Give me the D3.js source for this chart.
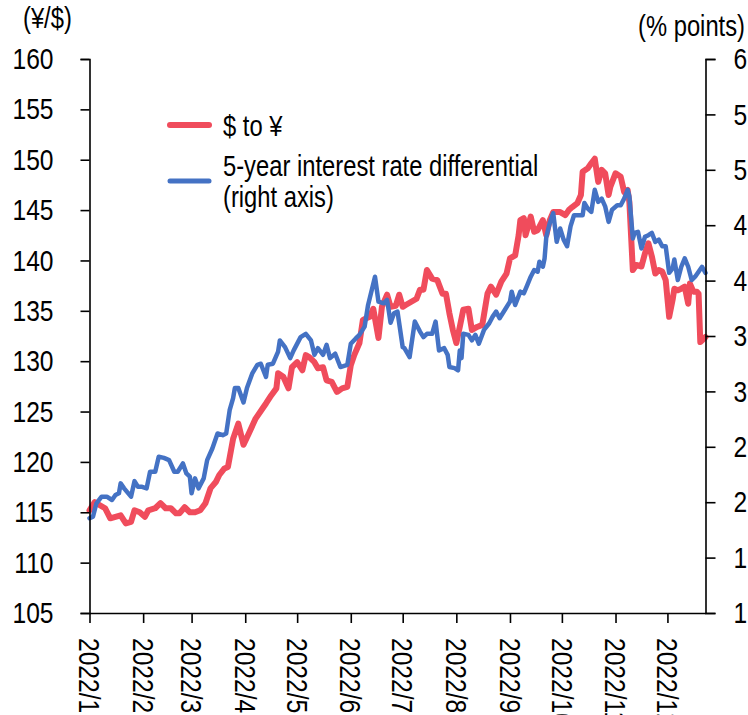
<!DOCTYPE html>
<html><head><meta charset="utf-8">
<script src="https://cdn.jsdelivr.net/npm/d3@7"></script>
<style>
body{margin:0;background:#fff}
svg{display:block}
text{font-family:'Liberation Sans',Arial,sans-serif;fill:#000}
</style>
</head><body>
<svg id="chart" width="748" height="715"></svg>
<script>
const year = 2022;
// $ to ¥ (left axis)
const fxDates = ["01-01","01-04","01-07","01-10","01-13","01-16","01-19","01-22","01-25","01-27","01-30","02-02","02-04","02-08","02-11","02-14","02-17","02-20","02-22","02-25","02-28","03-03","03-06","03-09","03-12","03-15","03-17","03-20","03-22","03-25","03-28","03-31","04-03","04-07","04-11","04-13","04-16","04-19","04-20","04-23","04-26","04-28","05-01","05-04","05-06","05-08","05-11","05-13","05-16","05-18","05-21","05-24","05-27","05-30","06-01","06-03","06-06","06-08","06-10","06-12","06-14","06-17","06-19","06-22","06-24","06-27","06-29","07-01","07-03","07-06","07-09","07-11","07-13","07-15","07-18","07-21","07-24","07-26","07-28","07-30","08-01","08-03","08-05","08-08","08-10","08-13","08-16","08-19","08-21","08-24","08-27","08-30","09-01","09-04","09-06","09-07","09-09","09-10","09-13","09-15","09-17","09-20","09-22","09-24","09-26","09-27","09-30","10-03","10-05","10-07","10-10","10-12","10-13","10-16","10-18","10-20","10-22","10-24","10-26","10-28","10-29","11-01","11-04","11-06","11-08","11-09","11-11","11-13","11-16","11-18","11-20","11-22","11-24","11-26","11-28","11-30","12-02","12-04","12-05","12-07","12-09","12-11","12-13","12-14","12-16","12-18","12-19","12-20","12-23"];
const fxValues = [115.2,116.0,115.7,115.4,114.4,114.55,114.7,113.9,114.05,115.2,115.0,114.55,115.2,115.4,115.9,115.4,115.4,114.9,114.9,115.5,115.0,115.0,115.2,115.9,117.4,118.0,118.7,119.35,119.5,122.3,123.8,121.7,122.8,124.3,125.3,125.8,126.6,127.3,128.8,128.45,127.3,129.4,129.9,129.1,130.6,130.4,129.9,129.3,129.4,128.1,127.95,126.95,127.3,127.45,129.6,130.6,131.8,134.1,134.25,134.4,135.2,132.3,135.4,136.6,135.4,135.5,136.6,135.4,135.6,135.9,136.2,137.1,137.1,139.05,138.2,138.05,136.7,136.7,134.75,133.1,131.8,133.4,135.1,135.2,133.1,133.4,133.6,136.7,137.4,136.6,137.9,138.7,140.2,140.5,142.5,144.0,144.2,142.5,144.35,142.85,143.0,144.0,142.5,144.0,144.8,144.8,144.8,144.5,145.0,145.3,145.7,146.5,148.8,149.15,149.65,150.1,147.8,149.0,148.65,146.5,147.3,148.65,148.3,146.8,147.0,145.8,139.05,139.55,139.4,140.7,141.7,140.4,138.7,139.05,138.9,138.05,134.4,136.1,137.2,137.05,137.2,137.4,135.7,137.7,136.9,136.9,136.7,131.9,132.4];
// 5-year interest rate differential (right axis)
const diffDates = ["01-01","01-03","01-05","01-08","01-11","01-14","01-16","01-18","01-19","01-21","01-25","01-27","01-29","01-31","02-03","02-05","02-08","02-10","02-13","02-16","02-19","02-21","02-24","02-26","02-28","03-01","03-03","03-05","03-08","03-10","03-13","03-16","03-19","03-21","03-23","03-25","03-26","03-28","03-31","04-02","04-05","04-08","04-10","04-13","04-14","04-17","04-20","04-21","04-24","04-27","04-29","05-03","05-06","05-09","05-11","05-13","05-16","05-18","05-20","05-23","05-26","05-30","06-01","06-04","06-06","06-09","06-11","06-15","06-17","06-20","06-22","06-24","06-26","06-28","07-01","07-02","07-05","07-08","07-11","07-13","07-15","07-18","07-20","07-22","07-25","07-27","07-28","07-31","08-02","08-03","08-04","08-05","08-08","08-10","08-12","08-14","08-17","08-20","08-22","08-24","08-26","08-29","09-01","09-02","09-04","09-07","09-09","09-11","09-13","09-15","09-17","09-18","09-20","09-21","09-22","09-24","09-26","09-28","09-30","10-02","10-04","10-06","10-08","10-11","10-13","10-14","10-16","10-18","10-20","10-22","10-24","10-26","10-28","10-30","11-02","11-04","11-06","11-08","11-09","11-11","11-12","11-14","11-16","11-18","11-20","11-22","11-24","11-26","11-28","11-30","12-02","12-04","12-05","12-07","12-09","12-11","12-13","12-15","12-17","12-19","12-21","12-23"];
const diffValues = [1.855,1.87,1.99,2.05,2.05,2.02,2.065,2.08,2.17,2.125,2.05,2.19,2.14,2.14,2.125,2.275,2.275,2.41,2.40,2.38,2.275,2.275,2.35,2.26,2.23,2.08,2.215,2.125,2.215,2.38,2.485,2.62,2.605,2.62,2.83,2.94,3.03,3.03,2.90,3.03,3.16,3.24,3.25,3.13,3.24,3.25,3.36,3.46,3.40,3.30,3.37,3.49,3.52,3.46,3.33,3.39,3.33,3.42,3.30,3.34,3.22,3.24,3.43,3.48,3.51,3.585,3.78,4.035,3.81,3.795,3.825,3.62,3.705,3.72,3.40,3.39,3.31,3.63,3.54,3.49,3.52,3.52,3.63,3.37,3.39,3.33,3.22,3.21,3.19,3.37,3.30,3.52,3.51,3.46,3.51,3.43,3.555,3.615,3.675,3.72,3.66,3.735,3.81,3.90,3.78,3.90,3.885,3.96,4.035,4.095,4.08,4.17,4.125,4.2,4.395,4.52,4.61,4.35,4.47,4.37,4.31,4.49,4.59,4.59,4.59,4.70,4.65,4.62,4.82,4.71,4.74,4.67,4.53,4.64,4.68,4.68,4.74,4.82,4.76,4.38,4.43,4.44,4.29,4.395,4.41,4.43,4.35,4.37,4.31,4.31,4.07,4.11,4.19,4.005,4.125,4.20,4.125,4.005,4.035,4.08,4.125,4.07];

const xDomain = ["01-01","12-23"];
const xTickDates = ["01-01","02-01","03-01","04-01","05-01","06-01","07-01","08-01","09-01","10-01","11-01","12-01"];
const xTickLabels = ["2022/1","2022/2","2022/3","2022/4","2022/5","2022/6","2022/7","2022/8","2022/9","2022/10","2022/11","2022/12"];
const leftTicks = [105,110,115,120,125,130,135,140,145,150,155,160];
const rightTicks = [1,1.5,2,2.5,3,3.5,4,4.5,5,5.5,6];
const rightTickLabels = ["1","1","2","2","3","3","4","4","5","5","6"];
const seriesNames = ["$ to ¥","5-year interest rate differential","(right axis)"];
const leftTitle = "(¥/$)";
const rightTitle = "(% points)";

const parse = s => d3.timeParse("%Y-%m-%d")(year + "-" + s);
const RED = "#F04C5C", BLUE = "#4472C4";
const NARROW = 0.82; // horizontal condensing to mimic a narrow typeface

const svg = d3.select("#chart");
const x = d3.scaleTime().domain(xDomain.map(parse)).range([89.5, 705.5]);
const yL = d3.scaleLinear().domain([105,160]).range([613, 59]);
const yR = d3.scaleLinear().domain([1,6]).range([613, 59]);

const fx = fxDates.map((d,i)=>({date:parse(d), v:fxValues[i]}));
const df = diffDates.map((d,i)=>({date:parse(d), v:diffValues[i]}));

svg.append("path").datum(fx)
  .attr("fill","none").attr("stroke",RED).attr("stroke-width",6)
  .attr("stroke-linejoin","round").attr("stroke-linecap","round")
  .attr("d", d3.line().x(d=>x(d.date)).y(d=>yL(d.v)));
svg.append("path").datum(df)
  .attr("fill","none").attr("stroke",BLUE).attr("stroke-width",4.5)
  .attr("stroke-linejoin","round").attr("stroke-linecap","round")
  .attr("d", d3.line().x(d=>x(d.date)).y(d=>yR(d.v)));

function styleAxis(g){
  g.select(".domain").attr("stroke","#000").attr("stroke-width",1.6);
  g.selectAll(".tick line").attr("stroke","#000").attr("stroke-width",1.6);
  g.selectAll("text").attr("font-size",30).attr("fill","#000")
    .attr("font-family","'Liberation Sans',Arial,sans-serif");
}

const gL = svg.append("g").attr("transform","translate(89.5,0)")
  .call(d3.axisLeft(yL).tickValues(leftTicks).tickSize(9).tickPadding(27).tickFormat(d3.format("d")));
styleAxis(gL);

const gR = svg.append("g").attr("transform","translate(705.5,0)")
  .call(d3.axisRight(yR).tickValues(rightTicks).tickSize(10).tickPadding(18).tickFormat((d,i)=>rightTickLabels[i]));
styleAxis(gR);

const gX = svg.append("g").attr("transform","translate(0,613)")
  .call(d3.axisBottom(x).tickValues(xTickDates.map(parse)).tickSize(10).tickSizeOuter(0).tickFormat((d,i)=>xTickLabels[i]));
styleAxis(gX);
gX.selectAll(".tick text")
  .attr("transform","rotate(90)").attr("text-anchor","start")
  .attr("x",25).attr("y",0).attr("dy","0.36em");

// titles
svg.append("text").attr("x",23).attr("y",28).attr("font-size",29).text(leftTitle);
svg.append("text").attr("x",745).attr("y",36).attr("text-anchor","end").attr("font-size",29).text(rightTitle);

// legend
const lg = svg.append("g");
lg.append("line").attr("x1",170).attr("x2",209).attr("y1",125).attr("y2",125)
  .attr("stroke",RED).attr("stroke-width",6).attr("stroke-linecap","round");
lg.append("line").attr("x1",170).attr("x2",209).attr("y1",181).attr("y2",181)
  .attr("stroke",BLUE).attr("stroke-width",5).attr("stroke-linecap","round");
lg.append("text").attr("x",223).attr("y",136).attr("font-size",29).text(seriesNames[0]);
lg.append("text").attr("x",223).attr("y",176).attr("font-size",29).text(seriesNames[1]);
lg.append("text").attr("x",223).attr("y",207).attr("font-size",29).text(seriesNames[2]);

// condense all text horizontally (along its own reading direction)
svg.selectAll("text").each(function(){
  const t = d3.select(this);
  const xv = +t.attr("x") || 0;
  const tr = t.attr("transform") || "";
  t.attr("x", xv / NARROW).attr("transform", (tr + " scale(" + NARROW + ",1)").trim());
});
</script>
</body></html>
